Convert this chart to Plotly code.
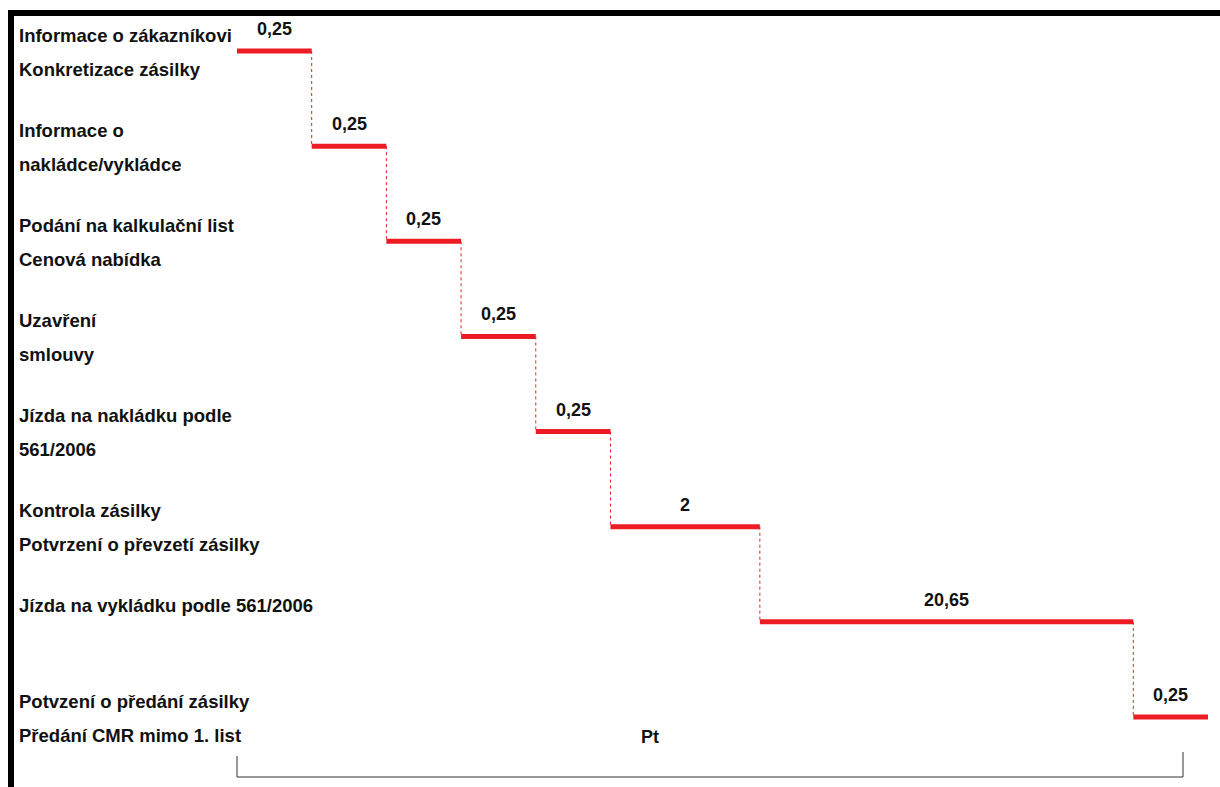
import plotly.graph_objects as go

# ---- data ----
activities = [
    ["Informace o zákazníkovi", "Konkretizace zásilky"],
    ["Informace o", "nakládce/vykládce"],
    ["Podání na kalkulační list", "Cenová nabídka"],
    ["Uzavření", "smlouvy"],
    ["Jízda na nakládku podle", "561/2006"],
    ["Kontrola zásilky", "Potvrzení o převzetí zásilky"],
    ["Jízda na vykládku podle 561/2006"],
    ["Potvzení o předání zásilky", "Předání CMR mimo 1. list"],
]
durations = [0.25, 0.25, 0.25, 0.25, 0.25, 2, 20.65, 0.25]
schematic_span = [1, 1, 1, 1, 1, 2, 5, 1]   # drawing is not to scale
total_label = "Pt"

# ---- layout helpers ----
W, H = 1220, 787
RED = "#ed1c24"
FONT = "Liberation Sans, Arial, sans-serif"
FS_LABEL = 18.5
FS_VALUE = 18

starts, ends = [], []
acc = 0
for s in schematic_span:
    starts.append(acc)
    acc += s
    ends.append(acc)
total = acc

x_px0, x_px1 = 237, 1208          # pixel positions of x=0 and x=total
kx = (x_px1 - x_px0) / total
x_range = [-x_px0 / kx, (W - x_px0) / kx]
y_px0, y_px1 = 51, 717            # pixel positions of first and last row
ky = (y_px1 - y_px0) / (len(durations) - 1)
y_range = [(H - y_px0) / ky, -y_px0 / ky]

fig = go.Figure()

# dotted connectors
for i in range(len(durations) - 1):
    fig.add_trace(go.Scatter(
        x=[ends[i], ends[i]], y=[i, i + 1], mode="lines",
        line=dict(color=RED, width=1, dash="dot"),
        hoverinfo="skip", showlegend=False))

# activity segments
for i, d in enumerate(durations):
    fig.add_trace(go.Scatter(
        x=[starts[i], ends[i]], y=[i, i], mode="lines",
        line=dict(color=RED, width=5),
        hoverinfo="skip", showlegend=False))

annotations = []
for i, d in enumerate(durations):
    label = f"{d:g}".replace(".", ",")
    annotations.append(dict(
        x=(starts[i] + ends[i]) / 2, y=i, xref="x", yref="y",
        text=f"<b>{label}</b>", showarrow=False, yshift=22,
        xanchor="center", yanchor="middle",
        font=dict(family=FONT, size=FS_VALUE, color="#111111")))

for i, lines in enumerate(activities):
    if len(lines) == 2:
        shifts = [16, -18]
    else:
        shifts = [16]
    for line, sh in zip(lines, shifts):
        annotations.append(dict(
            x=17 / W, y=i, xref="paper", yref="y",
            text=f"<b>{line}</b>", showarrow=False, yshift=sh,
            xanchor="left", yanchor="middle",
            font=dict(family=FONT, size=FS_LABEL, color="#111111")))

# total bracket label
annotations.append(dict(
    x=(650 - x_px0) / kx, y=(737 - y_px0) / ky, xref="x", yref="y",
    text=f"<b>{total_label}</b>", showarrow=False,
    xanchor="center", yanchor="middle",
    font=dict(family=FONT, size=FS_VALUE, color="#111111")))

br_end = (1183 - x_px0) / kx
br_y = (777 - y_px0) / ky
shapes = [
    # bracket under the whole process
    dict(type="path", xref="x", yref="y",
         path=f"M 0,{(756 - y_px0) / ky} L 0,{br_y} L {br_end},{br_y} L {br_end},{(752 - y_px0) / ky}",
         line=dict(color="#333333", width=1)),
    # black frame lines (top and left)
    dict(type="rect", xref="paper", yref="paper",
         x0=8 / W, x1=1, y0=1 - 16 / H, y1=1 - 10 / H,
         fillcolor="black", line=dict(width=0)),
    dict(type="rect", xref="paper", yref="paper",
         x0=8 / W, x1=14 / W, y0=0, y1=1 - 10 / H,
         fillcolor="black", line=dict(width=0)),
]

fig.update_layout(
    width=W, height=H,
    margin=dict(l=0, r=0, t=0, b=0),
    paper_bgcolor="white", plot_bgcolor="white",
    xaxis=dict(range=x_range, visible=False, fixedrange=True),
    yaxis=dict(range=y_range, visible=False, fixedrange=True),
    annotations=annotations, shapes=shapes,
    showlegend=False,
)

fig.write_html("out.html")
